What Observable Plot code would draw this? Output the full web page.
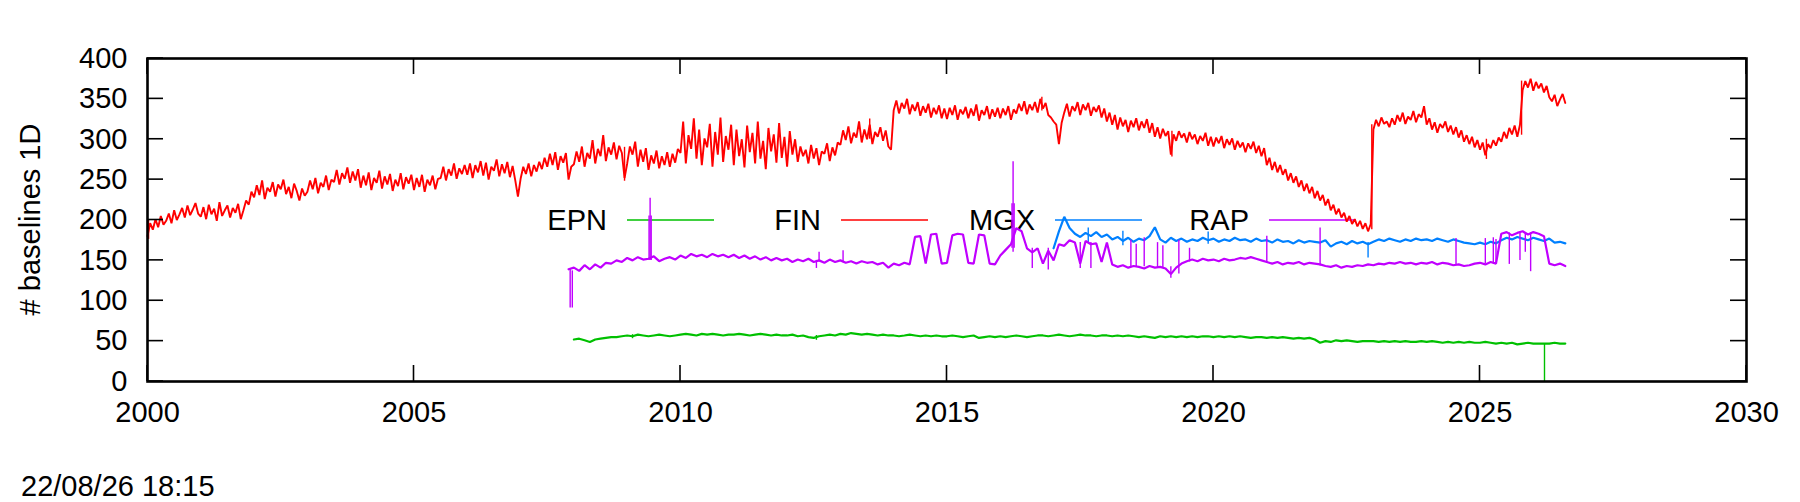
<!DOCTYPE html>
<html>
<head>
<meta charset="utf-8">
<script src="https://cdn.jsdelivr.net/npm/d3@7"></script>
<script src="https://cdn.jsdelivr.net/npm/@observablehq/plot@0.6"></script>
<style>
  body { margin: 0; background: #fff; }
  #chart svg { display: block; }
</style>
</head>
<body>
<div id="chart"></div>
<script>
// ---------- data ----------
const seriesNames  = ["EPN", "FIN", "MGX", "RAP"];
const seriesColors = ["#00c000", "#ff0000", "#0080ff", "#c000ff"];
const xTicks = [2000, 2005, 2010, 2015, 2020, 2025, 2030];
const yTicks = [0, 50, 100, 150, 200, 250, 300, 350, 400];
const yLabel = "# baselines 1D";
const timestamp = "22/08/26 18:15";

// EPN: one sample every 0.1 year from 2008.0
const epnStart = 2008.0, epnStep = 0.1;
const epnValues = [
  52,53,51,49,52,53,54,55,55,56,
  57,56,58,57,56,57,58,57,56,57,
  58,59,58,57,59,58,59,58,57,58,
  58,59,58,57,58,59,58,57,58,57,
  57,58,56,57,55,54,56,57,58,57,
  59,58,60,59,58,59,58,57,58,57,
  57,56,57,58,57,56,57,56,57,56,
  56,57,56,55,56,57,54,55,56,55,
  56,55,56,57,56,55,56,57,57,56,
  57,58,57,56,57,58,57,57,56,57,
  57,56,57,56,57,56,55,56,55,54,
  56,55,56,55,56,55,56,55,56,56,
  55,56,55,56,55,56,55,54,55,55,
  54,55,54,55,54,53,54,53,54,52,
  48,50,49,51,50,51,50,49,50,50,
  50,49,50,49,50,49,50,49,49,50,
  49,50,49,48,49,48,49,48,49,48,
  48,49,48,47,48,47,48,46,47,48,
  47,47,47,47,48,47,47
];
const epnSpikes = [[2026.21, 0, 47], [2012.55, 51, 57], [2009.1, 53, 58]];

// FIN: one sample every 0.05 year from 2000.0
const finStart = 2000.0, finStep = 0.05;
const finValues = [
  180,196,188,201,191,205,194,199,208,196,212,200,207,215,203,218,206,213,221,208,
  204,216,201,219,207,214,199,222,205,212,218,203,215,209,220,201,212,224,219,235,
  228,243,231,249,226,240,235,247,229,244,238,250,232,241,227,245,236,224,239,230,
  235,249,238,252,233,246,241,255,237,250,247,262,244,258,251,265,246,260,249,263,
  240,255,243,259,237,252,246,261,239,254,244,257,236,250,242,258,238,253,245,256,
  237,252,241,256,235,250,243,255,238,251,252,266,249,263,255,270,251,264,257,268,
  256,270,252,268,259,273,255,271,250,266,261,275,254,269,258,272,253,267,249,229,
  251,266,257,270,254,268,260,272,263,277,266,282,268,284,262,279,271,283,250,266,
  269,285,272,291,266,283,276,299,270,288,279,305,273,290,281,296,275,292,283,252,
  270,291,281,297,266,287,272,289,262,280,270,286,264,279,268,284,266,282,271,288,
  283,322,270,305,288,326,276,312,268,301,290,319,266,309,281,327,272,304,287,318,
  268,312,279,300,265,317,284,308,270,322,276,298,263,314,285,306,271,320,277,303,
  266,310,281,300,272,291,279,287,270,293,276,289,268,285,282,295,273,290,280,296,
  293,311,299,316,295,308,302,322,296,312,300,318,294,309,303,315,298,311,291,287,
  336,348,332,345,338,350,331,343,335,346,329,341,333,344,327,339,331,342,326,338,
  325,339,330,342,324,337,331,340,326,338,329,343,323,336,330,341,325,337,328,339,
  326,338,330,341,324,337,332,344,335,347,331,343,336,346,333,350,338,345,330,327,
  322,318,294,320,333,344,328,341,335,346,330,343,336,345,329,340,334,342,327,338,
  322,333,318,330,312,327,316,324,309,323,315,326,311,322,314,325,308,320,303,315,
  301,313,304,310,281,306,298,310,302,307,296,309,300,306,294,304,298,308,292,303,
  291,302,295,304,289,300,293,301,287,298,290,296,284,295,288,297,283,292,279,289,
  268,277,262,272,259,268,256,263,249,258,246,254,241,249,236,245,233,241,227,236,
  224,231,218,226,212,219,207,214,203,209,198,205,195,201,192,199,189,196,186,195,
  312,324,316,327,319,322,315,326,318,330,322,333,319,328,324,335,321,331,327,341,
  318,326,312,321,308,319,314,322,309,317,306,315,302,311,297,305,294,303,290,299,
  287,296,280,294,289,299,292,302,297,309,301,314,306,317,303,318,361,372,364,375,
  360,371,363,369,358,366,352,347,355,341,349,356,345
];
const finSpikes = [[2000.02, 176, 200], [2008.95, 248, 290], [2019.22, 278, 310], [2022.97, 188, 318], [2025.12, 275, 300], [2025.78, 305, 372], [2013.55, 300, 325], [2016.78, 335, 352]];

// MGX: one sample every 0.1 year from 2017.0
const mgxStart = 2017.0, mgxStep = 0.1;
const mgxValues = [
  165,186,204,190,183,179,184,180,185,179,
  182,176,179,174,178,173,177,175,180,191,
  176,172,178,174,177,173,176,174,178,175,
  177,173,176,174,178,175,176,173,177,174,
  175,172,176,173,174,171,175,172,174,173,
  172,175,167,171,173,170,174,171,173,170,
  173,176,174,177,175,173,176,174,177,175,
  176,174,177,175,173,176,174,172,171,170,
  172,170,173,171,175,178,176,179,177,175,
  178,176,174,177,172,173,171
];
const mgxSpikes = [[2022.9, 153, 172], [2018.3, 168, 186], [2017.65, 172, 190], [2019.9, 170, 185]];

// RAP: one sample every 0.1 year from 2007.9
const rapStart = 2007.9, rapStep = 0.1;
const rapValues = [
  139,
  141,137,144,139,145,141,147,146,150,148,
  153,150,154,151,152,155,149,152,154,151,
  156,153,158,155,157,154,158,155,157,154,
  157,153,156,152,155,151,154,150,153,150,
  152,148,151,149,152,148,150,147,151,148,
  150,147,149,146,149,147,148,145,147,141,
  146,144,147,145,179,180,146,182,183,146,
  147,181,183,182,147,146,182,181,146,145,
  156,163,170,190,186,165,160,165,146,162,
  150,170,168,175,172,146,174,170,171,148,
  172,145,142,144,141,143,142,140,143,141,
  142,140,133,141,146,149,151,149,152,150,
  151,149,152,150,151,153,152,154,152,150,
  148,146,148,145,147,146,148,145,147,146,
  145,143,142,144,141,143,142,144,143,145,
  144,146,145,147,146,148,146,147,145,147,
  146,148,145,147,146,144,145,143,144,146,
  147,145,148,146,183,185,181,184,186,182,
  185,183,180,146,144,146,143
];
const rapSpikes = [
  [2007.93, 91, 139], [2007.97, 91, 137],
  [2009.41, 150, 205], [2009.43, 150, 227], [2009.45, 150, 205],
  [2012.55, 140, 150], [2012.6, 148, 160], [2013.05, 147, 162],
  [2016.22, 165, 220], [2016.24, 160, 272], [2016.26, 165, 220],
  [2016.6, 140, 165], [2016.9, 138, 165], [2017.5, 140, 172], [2017.7, 140, 172],
  [2018.45, 142, 175], [2018.55, 142, 170], [2018.7, 142, 178], [2018.95, 141, 172],
  [2019.05, 140, 168], [2019.2, 128, 142], [2019.35, 133, 175], [2019.55, 148, 165],
  [2021.0, 146, 180], [2022.0, 143, 190], [2024.55, 144, 177],
  [2025.1, 146, 177], [2025.25, 146, 178], [2025.3, 146, 176],
  [2025.55, 145, 184], [2025.75, 150, 185], [2025.85, 160, 183], [2025.95, 136, 184]
];

// ---------- build tables ----------
function toRows(start, step, values) {
  return values.map((v, i) => ({date: Math.round((start + i * step) * 1000) / 1000, value: v}));
}
const series = [
  {rows: toRows(epnStart, epnStep, epnValues), spikes: epnSpikes, sw: 2.2},
  {rows: toRows(finStart, finStep, finValues), spikes: finSpikes, sw: 1.9},
  {rows: toRows(mgxStart, mgxStep, mgxValues), spikes: mgxSpikes, sw: 2.2},
  {rows: toRows(rapStart, rapStep, rapValues), spikes: rapSpikes, sw: 2.2}
];

const W = 1800, H = 502;
const mL = 147, mR = 54, mT = 58, mB = 121;
const font = "'Liberation Sans', Arial, Helvetica, sans-serif";
const fs = 29;

const dataMarks = [];
series.forEach((s, i) => {
  dataMarks.push(Plot.line(s.rows, {x: "date", y: "value", stroke: seriesColors[i], strokeWidth: s.sw, strokeLinejoin: "miter"}));
  dataMarks.push(Plot.ruleX(s.spikes, {x: d => d[0], y1: d => d[1], y2: d => d[2], stroke: seriesColors[i], strokeWidth: 1.4}));
});

const chart = Plot.plot({
  width: W, height: H,
  marginLeft: mL, marginRight: mR, marginTop: mT, marginBottom: mB,
  style: {fontFamily: font, fontSize: fs + "px", background: "#fff", color: "#000", overflow: "visible"},
  x: {domain: [2000, 2030]},
  y: {domain: [0, 400]},
  marks: [
    Plot.axisX(xTicks, {tickSize: 0, tickPadding: 20, tickFormat: d => String(d), label: null, fontSize: fs}),
    Plot.axisY(yTicks, {tickSize: 0, tickPadding: 20, label: null, fontSize: fs}),
    ...dataMarks,
    Plot.frame({stroke: "#000", strokeWidth: 2.6})
  ]
});

document.getElementById("chart").appendChild(chart);

// ---------- inward ticks on all four sides, via Plot's scales ----------
const sx = chart.scale("x"), sy = chart.scale("y");
const svg = d3.select(chart);
const x0 = mL, x1 = W - mR, y0 = mT, y1 = H - mB;
const tl = 16;
const tg = svg.append("g").attr("stroke", "#000").attr("stroke-width", 1.6);
xTicks.forEach(t => {
  const px = sx.apply(t);
  tg.append("line").attr("x1", px).attr("x2", px).attr("y1", y1).attr("y2", y1 - tl);
  tg.append("line").attr("x1", px).attr("x2", px).attr("y1", y0).attr("y2", y0 + tl);
});
yTicks.forEach(t => {
  const py = sy.apply(t);
  tg.append("line").attr("x1", x0).attr("x2", x0 + tl).attr("y1", py).attr("y2", py);
  tg.append("line").attr("x1", x1).attr("x2", x1 - tl).attr("y1", py).attr("y2", py);
});

// ---------- key (drawn beneath the data, as gnuplot does) ----------
const firstData = chart.querySelector('g[aria-label="line"]');
const keyNode = document.createElementNS("http://www.w3.org/2000/svg", "g");
chart.insertBefore(keyNode, firstData);
const key = d3.select(keyNode).attr("font-family", font).attr("font-size", fs);
const keyX = 627, keyDX = 214, keyLen = 87, keyY = 220;
seriesNames.forEach((n, i) => {
  const lx = keyX + i * keyDX;
  key.append("text").attr("x", lx - 20).attr("y", keyY).attr("dy", "0.36em")
    .attr("text-anchor", "end").attr("fill", "#000").text(n);
  key.append("line").attr("x1", lx).attr("x2", lx + keyLen).attr("y1", keyY).attr("y2", keyY)
    .attr("stroke", seriesColors[i]).attr("stroke-width", 1.5);
});

// ---------- y label and timestamp ----------
svg.append("text")
  .attr("transform", `translate(40,${(y0 + y1) / 2}) rotate(-90)`)
  .attr("text-anchor", "middle").attr("font-family", font).attr("font-size", fs)
  .attr("fill", "#000").text(yLabel);
svg.append("text")
  .attr("x", 21).attr("y", 496).attr("text-anchor", "start")
  .attr("font-family", font).attr("font-size", fs)
  .attr("fill", "#000").text(timestamp);
</script>
</body>
</html>
